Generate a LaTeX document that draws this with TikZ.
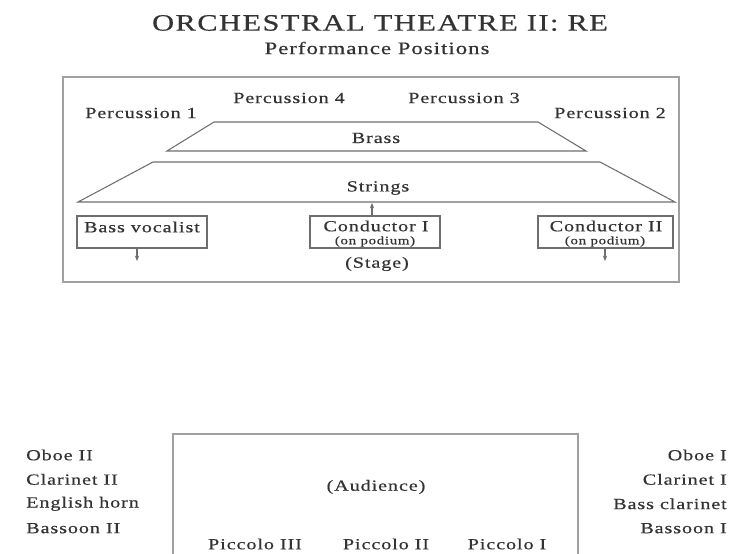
\documentclass[tikz,border=0pt]{standalone}
\usepackage{fontspec}
\setmainfont{Liberation Serif}[FakeStretch=1.3,LetterSpace=6,FakeBold=0.5]
\usetikzlibrary{positioning, arrows.meta}
\definecolor{inkgray}{HTML}{333333}
\definecolor{linegray}{HTML}{6E6E6E}
\definecolor{framegray}{HTML}{A0A0A0}
\tikzset{
  lbl/.style={text=inkgray, inner sep=0pt, font=\fontsize{11.6}{13}\selectfont},
  podium/.style={text=inkgray, inner sep=0pt, font=\fontsize{8.6}{9}\selectfont},
  playerbox/.style={draw=linegray, line width=0.8pt, minimum height=24pt, inner sep=0pt},
  cue/.style={-{Stealth[length=4pt,width=3.2pt]}, linegray, line width=0.8pt},
  riser/.style={draw=linegray, line width=0.8pt},
}

\begin{document}
\begin{tikzpicture}[x=0.75pt, y=-0.75pt]
\useasboundingbox (0,0) rectangle (734,553);
\clip (0,0) rectangle (734,553);
% heading
\node[lbl, font=\fontsize{17.6}{20}\selectfont] (title) at (380,23) {ORCHESTRAL THEATRE II: RE};
\node[lbl, font=\fontsize{13.1}{15}\selectfont] (subtitle) at (377,48) {Performance Positions};

% stage
\draw[framegray, line width=1.5pt] (63,77) rectangle (679,282);
\node[lbl] (perc1) at (141,113) {Percussion 1};
\node[lbl] (perc4) at (289,98) {Percussion 4};
\node[lbl] (perc3) at (464,98) {Percussion 3};
\node[lbl] (perc2) at (610,113) {Percussion 2};
\draw[riser] (167,151) -- (214,122) -- (538,122) -- (586,151) -- cycle;
\node[lbl] (brass) at (376,138) {Brass};
\draw[riser] (78,202) -- (153,162) -- (600,162) -- (675,202) -- cycle;
\node[lbl] (strings) at (378,188) {Strings};

\node[playerbox, minimum width=97.5pt] (bass) at (142,232) {};
\node[lbl] (basstext) at (142,227) {Bass vocalist};
\node[playerbox, minimum width=97.5pt] (condI) at (375,232) {};
\node[lbl] (condItext) at (376,226) {Conductor I};
\node[podium] (condIpod) at (375,241.5) {(on podium)};
\node[playerbox, minimum width=101.25pt] (condII) at (605.5,232) {};
\node[lbl] (condIItext) at (606,226) {Conductor II};
\node[podium] (condIIpod) at (605,241.5) {(on podium)};

\coordinate (stringsfront) at (372,203);
\coordinate (bassout) at (137,261);
\coordinate (condIIout) at (605,261);
\draw[cue] (condI.north -| stringsfront) -- (stringsfront);
\draw[cue] (bass.south -| bassout) -- (bassout);
\draw[cue] (condII.south -| condIIout) -- (condIIout);
\node[lbl] (stage) at (377,264) {(Stage)};

% audience
\draw[framegray, line width=1pt] (173,434) rectangle (578,580);
\node[lbl] (audience) at (376,487) {(Audience)};
\foreach \name/\xx [count=\i] in {Piccolo III/255, Piccolo II/386, Piccolo I/507}
  \node[lbl] (picc\i) at (\xx,544) {\name};
\foreach \name [count=\i] in {Oboe II, Clarinet II, English horn, Bassoon II}
  \node[lbl, anchor=west] (windL\i) at (26,{455+24.4*(\i-1)}) {\name};
\foreach \name [count=\i] in {Oboe I, Clarinet I, Bass clarinet, Bassoon I}
  \node[lbl, anchor=east] (windR\i) at (727,{455+24.4*(\i-1)}) {\name};
\end{tikzpicture}
\end{document}
